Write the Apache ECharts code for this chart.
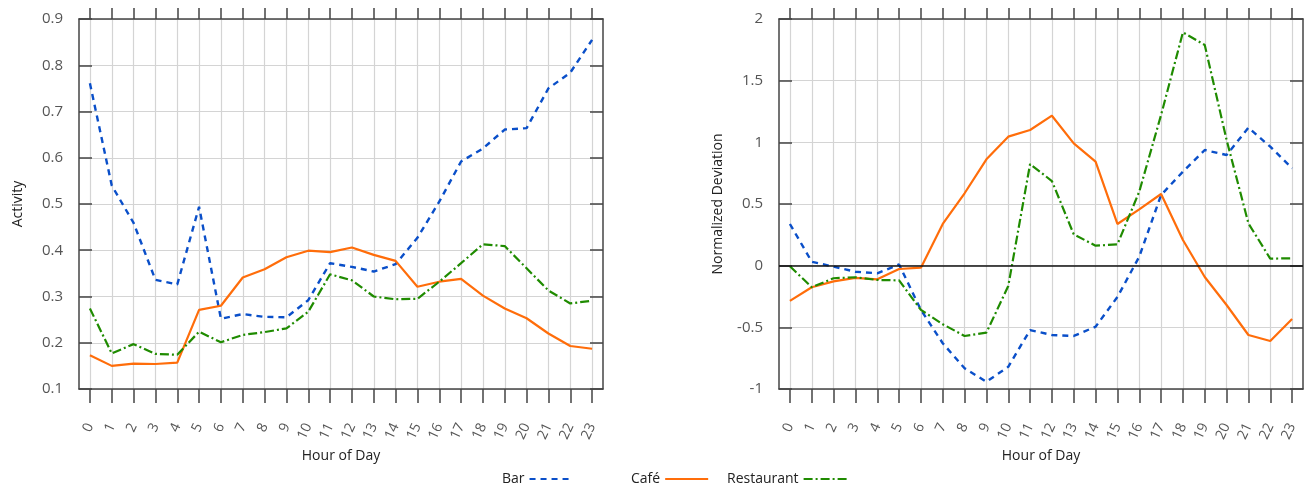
<!DOCTYPE html>
<html>
<head>
    <meta charset="utf-8">
    <script type="text/javascript" src="https://cdn.jsdelivr.net/npm/echarts@6/dist/echarts.min.js"></script>
</head>
<body style="margin:0;background:#fff;">
<div id="main" style="width:1308px;height:490px;"></div>
<script type="text/javascript">
    // hours 0..23
    var hours = [];
    for (var h = 0; h < 24; h++) hours.push(String(h));

    // left panel: activity
    var barActivity = [0.761, 0.540, 0.459, 0.336, 0.326, 0.494, 0.252, 0.262, 0.256, 0.255, 0.292, 0.372,
        0.364, 0.354, 0.370, 0.427, 0.505, 0.592, 0.620, 0.661, 0.664, 0.750, 0.784, 0.855];
    var cafeActivity = [0.173, 0.150, 0.155, 0.154, 0.157, 0.271, 0.280, 0.341, 0.359, 0.385, 0.399, 0.396,
        0.406, 0.390, 0.377, 0.321, 0.332, 0.338, 0.302, 0.274, 0.253, 0.220, 0.193, 0.187];
    var restActivity = [0.274, 0.177, 0.197, 0.176, 0.174, 0.224, 0.201, 0.217, 0.223, 0.231, 0.267, 0.348,
        0.335, 0.300, 0.294, 0.295, 0.332, 0.372, 0.413, 0.409, 0.361, 0.313, 0.285, 0.291];

    // right panel: normalized deviation
    var barDev = [0.338, 0.032, -0.008, -0.049, -0.062, 0.010, -0.359, -0.629, -0.832, -0.941, -0.820, -0.522,
        -0.562, -0.570, -0.495, -0.254, 0.073, 0.573, 0.762, 0.938, 0.897, 1.119, 0.965, 0.789];
    var cafeDev = [-0.286, -0.175, -0.127, -0.099, -0.111, -0.027, -0.016, 0.338, 0.587, 0.862, 1.046, 1.100,
        1.216, 0.992, 0.843, 0.338, 0.457, 0.581, 0.208, -0.092, -0.319, -0.562, -0.611, -0.432];
    var restDev = [-0.005, -0.175, -0.102, -0.094, -0.116, -0.119, -0.359, -0.475, -0.570, -0.543, -0.165, 0.824,
        0.686, 0.254, 0.162, 0.173, 0.600, 1.222, 1.892, 1.789, 1.020, 0.343, 0.057, 0.060];

    var names = ['Bar', 'Café', 'Restaurant'];
    var colors = ['#0a4fc9', '#ff6d0a', '#1f8b00'];
    var dashes = [[6, 5], 'solid', [9, 3, 2, 3]];
    var widths = [2.4, 2.2, 2.2];

    var font = 'Open Sans';
    var gridCol = '#d4d4d4';
    var axisCol = '#444';
    var axisLine = {show: true, onZero: false, lineStyle: {color: axisCol, width: 1.5}};
    var tickStyle = {color: axisCol, width: 1.5};

    // labelled axis + tick-only axes per grid
    // (bottom/left ticks are drawn by axes from the opposite side, shifted across)
    function xAxes(g) {
        return [{
            type: 'category', gridIndex: g, data: hours, position: 'bottom',
            boundaryGap: true, name: 'Hour of Day', nameLocation: 'middle', nameGap: 52,
            nameTextStyle: {fontFamily: font, fontSize: 14, color: '#222'},
            axisLine: axisLine,
            axisTick: {show: false},
            axisLabel: {show: true, rotate: 65, interval: 0, margin: 35, fontFamily: font, fontSize: 14, color: '#555'},
            splitLine: {show: true, alignWithLabel: true, lineStyle: {color: gridCol, width: 1.2}}
        }, {
            type: 'category', gridIndex: g, data: hours, position: 'top', offset: -370, boundaryGap: true,
            axisLine: {show: false, onZero: false},
            axisTick: {show: true, inside: true, alignWithLabel: true, interval: 0, length: 14, lineStyle: tickStyle},
            axisLabel: {show: false}, splitLine: {show: false}
        }, {
            type: 'category', gridIndex: g, data: hours, position: 'top', boundaryGap: true,
            axisLine: axisLine,
            axisTick: {show: true, alignWithLabel: true, interval: 0, length: 11, lineStyle: tickStyle},
            axisLabel: {show: false}, splitLine: {show: false}
        }];
    }

    function yAxes(g, min, max, step, title) {
        return [{
            type: 'value', gridIndex: g, min: min, max: max, interval: step, position: 'left',
            name: title, nameLocation: 'middle', nameGap: 54,
            nameTextStyle: {fontFamily: font, fontSize: 14, color: '#222'},
            axisLine: axisLine,
            axisTick: {show: false},
            axisLabel: {margin: 16, fontFamily: font, fontSize: 15, color: '#555'},
            splitLine: {show: true, lineStyle: {color: gridCol, width: 1.2}}
        }, {
            type: 'value', gridIndex: g, min: min, max: max, interval: step, position: 'right', offset: -524,
            axisLine: {show: false, onZero: false},
            axisTick: {show: true, inside: false, length: 13, lineStyle: tickStyle},
            axisLabel: {show: false}, splitLine: {show: false}
        }, {
            type: 'value', gridIndex: g, min: min, max: max, interval: step, position: 'right',
            axisLine: axisLine,
            axisTick: {show: true, inside: true, length: 13, lineStyle: tickStyle},
            axisLabel: {show: false}, splitLine: {show: false}
        }];
    }

    function makeSeries(data, i, ai) {
        return {
            name: names[i], type: 'line', xAxisIndex: ai, yAxisIndex: ai,
            data: data, symbol: 'none', color: colors[i], silent: true, animation: false,
            lineStyle: {color: colors[i], width: widths[i], type: dashes[i]},
            z: 3
        };
    }

    var series = [
        makeSeries(barActivity, 0, 0),
        makeSeries(cafeActivity, 1, 0),
        makeSeries(restActivity, 2, 0),
        makeSeries(barDev, 0, 3),
        makeSeries(cafeDev, 1, 3),
        makeSeries(restDev, 2, 3)
    ];
    // zero line on the right panel
    series[3].markLine = {
        silent: true, symbol: 'none', label: {show: false}, animation: false,
        lineStyle: {color: '#111', width: 1.5, type: 'solid'},
        data: [{yAxis: 0}]
    };

    function legendAt(left, name) {
        return {
            left: left, top: 467, data: [name], align: 'right',
            itemWidth: 43, itemHeight: 12, itemGap: 0, selectedMode: false,
            itemStyle: {opacity: 0},
            textStyle: {fontFamily: font, fontSize: 14, color: '#222'}
        };
    }

    var myChart = echarts.init(document.getElementById('main'));
    myChart.setOption({
        animation: false,
        textStyle: {fontFamily: font},
        grid: [
            {left: 79, top: 19, width: 524, height: 370},
            {left: 779, top: 19, width: 524, height: 370}
        ],
        legend: [legendAt(497, 'Bar'), legendAt(626, 'Café'), legendAt(722, 'Restaurant')],
        xAxis: xAxes(0).concat(xAxes(1)),
        yAxis: yAxes(0, 0.1, 0.9, 0.1, 'Activity').concat(yAxes(1, -1, 2, 0.5, 'Normalized Deviation')),
        series: series
    });
</script>
</body>
</html>
